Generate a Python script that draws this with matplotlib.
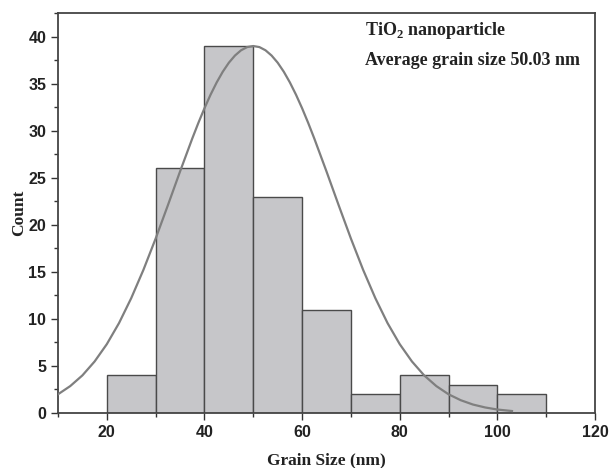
import numpy as np
import matplotlib
matplotlib.use("Agg")
import matplotlib.pyplot as plt
from matplotlib.ticker import MultipleLocator

# histogram bins (nm) and counts
bin_edges = [20, 30, 40, 50, 60, 70, 80, 90, 100, 110]
counts = [4, 26, 39, 23, 11, 2, 4, 3, 2]

# fitted normal curve
curve_x = [10, 12.5, 15, 17.5, 20, 22.5, 25, 27.5, 30, 32.5, 35, 37.5, 38.75, 40,
           41.25, 42.5, 43.75, 45, 46.25, 47.5, 48.75, 50, 51.25, 52.5, 53.75,
           55, 56.25, 57.5, 58.75, 60, 61.25, 62.5, 65, 67.5, 70, 72.5, 75, 77.5,
           80, 82.5, 85, 87.5, 90, 92.5, 95, 97.5, 100, 103]
curve_y = [1.99, 2.86, 4.00, 5.48, 7.32, 9.56, 12.21, 15.22, 18.54, 22.07, 25.67,
           29.17, 30.83, 32.39, 33.83, 35.13, 36.27, 37.23, 37.99, 38.55, 38.89,
           39.0, 38.89, 38.55, 37.99, 37.23, 36.27, 35.13, 33.83, 32.39, 30.83,
           29.17, 25.67, 22.07, 18.54, 15.22, 12.21, 9.56, 7.32, 5.48, 4.00,
           2.86, 1.99, 1.36, 0.90, 0.59, 0.37, 0.21]

x_ticks = [20, 40, 60, 80, 100, 120]
y_ticks = [0, 5, 10, 15, 20, 25, 30, 35, 40]

plt.rcParams['font.family'] = ['Liberation Sans', 'DejaVu Sans']
plt.rcParams['mathtext.fontset'] = 'custom'
plt.rcParams['mathtext.bf'] = 'Liberation Serif:bold'
plt.rcParams['mathtext.rm'] = 'Liberation Serif'

fig = plt.figure(figsize=(6.12, 4.68), dpi=100)
ax = fig.add_axes([0.0948, 0.1175, 0.8774, 0.8545])

lefts = bin_edges[:-1]
widths = np.diff(bin_edges)
ax.bar(lefts, counts, width=widths, align='edge', color='#c6c6c9',
       edgecolor='#4a4a4a', linewidth=1.0, zorder=2)
ax.plot(curve_x, curve_y, color='#7f7f7f', linewidth=1.6, zorder=3)

ax.set_xlim(10, 120)
ax.set_ylim(0, 42.5)
ax.set_xticks(x_ticks)
ax.set_yticks(y_ticks)
ax.xaxis.set_minor_locator(MultipleLocator(10))
ax.yaxis.set_minor_locator(MultipleLocator(2.5))
ax.tick_params(which='major', direction='out', length=5, width=1.0,
               color='#333333', labelsize=11.5)
ax.tick_params(which='minor', direction='out', length=3, width=1.0,
               color='#333333')
for lab in ax.get_xticklabels() + ax.get_yticklabels():
    lab.set_fontweight('bold')
    lab.set_color('#222222')
for sp in ax.spines.values():
    sp.set_color('#444444')
    sp.set_linewidth(1.3)

ax.set_xlabel("Grain Size (nm)", family='Liberation Serif', fontweight='bold',
              fontsize=12.5, labelpad=9, color='#222222')
ax.set_ylabel("Count", family='Liberation Serif', fontweight='bold',
              fontsize=12.5, labelpad=1, color='#222222')

ax.text(0.572, 0.957, r"TiO$_\mathbf{2}$ nanoparticle", transform=ax.transAxes,
        family='Liberation Serif', fontweight='bold', fontsize=13, va='center',
        color='#222222')
ax.text(0.572, 0.8825, "Average grain size 50.03 nm", transform=ax.transAxes,
        family='Liberation Serif', fontweight='bold', fontsize=13, va='center',
        color='#222222')

fig.savefig("out.png", dpi=100)
